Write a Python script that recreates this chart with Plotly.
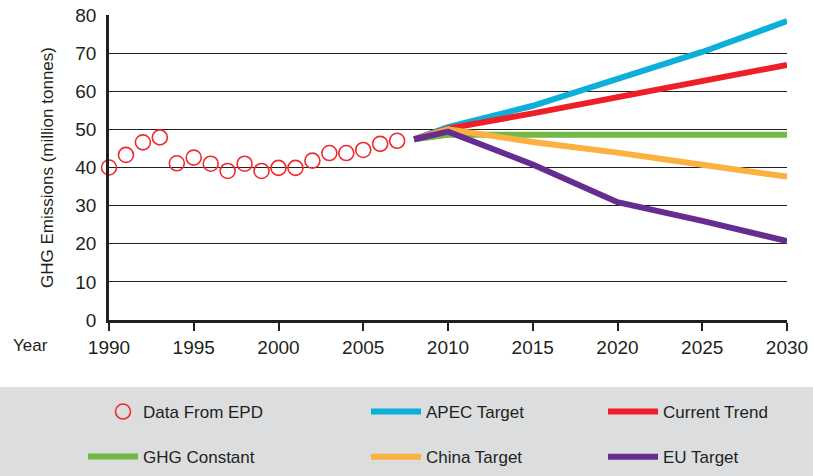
import plotly.graph_objects as go

# Observed emissions (million tonnes CO2-e)
epd_years = list(range(1990, 2008))
epd_values = [40.0, 43.3, 46.6, 47.9, 41.1, 42.6, 41.0, 39.1, 41.0, 39.1,
              39.9, 39.9, 41.8, 43.8, 43.8, 44.6, 46.2, 47.0]

# Projection scenarios
proj_years = [2008, 2010, 2015, 2020, 2025, 2030]
apec_target = [47.4, 50.6, 56.2, 63.3, 70.3, 78.4]
current_trend = [47.4, 50.2, 54.2, 58.4, 62.6, 66.9]
ghg_constant = [47.4, 48.6, 48.6, 48.6, 48.6, 48.6]
china_target = [47.4, 50.0, 46.7, 43.9, 40.7, 37.6]
eu_target = [47.4, 49.4, 40.8, 30.9, 26.0, 20.7]

x_ticks = [1990, 1995, 2000, 2005, 2010, 2015, 2020, 2025, 2030]
y_ticks = [0, 10, 20, 30, 40, 50, 60, 70, 80]

TEXT = "#231f20"
FONT = "Liberation Sans, Arial, sans-serif"

W, H = 813, 476
L, R, T, B = 109, 26, 15, 156
pw, ph = W - L - R, H - T - B


def px_x(px):
    return (px - L) / pw


def px_y(py):
    return (H - B - py) / ph


fig = go.Figure()

fig.add_trace(go.Scatter(
    x=epd_years, y=epd_values, mode="markers", name="Data From EPD",
    marker=dict(symbol="circle-open", size=15, color="#ee2b2f",
                line=dict(width=1.6, color="#ee2b2f")),
    cliponaxis=False, legend="legend", legendgroup="a"))

scenarios = [
    ("GHG Constant", ghg_constant, "#72b844", "legend4", "b"),
    ("APEC Target", apec_target, "#0bafd9", "legend2", "c"),
    ("Current Trend", current_trend, "#ee1f26", "legend3", "d"),
    ("China Target", china_target, "#fbb040", "legend2", "e"),
    ("EU Target", eu_target, "#662d91", "legend3", "f"),
]
for name, vals, color, leg, grp in scenarios:
    fig.add_trace(go.Scatter(
        x=proj_years, y=vals, mode="lines", name=name,
        line=dict(color=color, width=6),
        legend=leg, legendgroup=grp))

leg_common = dict(
    orientation="v", xanchor="left", yanchor="top",
    bgcolor="rgba(0,0,0,0)", font=dict(family=FONT, size=17, color=TEXT),
    traceorder="grouped", tracegroupgap=20)
row1_top = px_y(394)
row2_top = px_y(394 + 45)
fig.update_layout(
    legend=dict(x=px_x(145 - 42), y=row1_top, **leg_common),
    legend4=dict(x=px_x(145 - 62), y=row2_top, itemwidth=50, **leg_common),
    legend2=dict(x=px_x(428 - 62), y=row1_top, itemwidth=50, **leg_common),
    legend3=dict(x=px_x(665 - 62), y=row1_top, itemwidth=50, **leg_common),
)

# grey band behind the legend
fig.add_shape(type="rect", xref="paper", yref="paper",
              x0=px_x(-5), x1=px_x(W + 5), y0=px_y(387), y1=px_y(H + 5),
              fillcolor="#dcdddf", line=dict(width=0), layer="below")

fig.add_annotation(text="Year", xref="paper", yref="paper",
                   x=px_x(11), y=px_y(345), xanchor="left", yanchor="middle",
                   showarrow=False, font=dict(family=FONT, size=17, color=TEXT))

fig.update_xaxes(
    range=[1990, 2030], tickvals=x_ticks, ticktext=[str(v) for v in x_ticks],
    showgrid=False, zeroline=False, showline=True, linecolor=TEXT, linewidth=2.5,
    ticks="outside", ticklen=8, tickwidth=2, tickcolor=TEXT,
    tickfont=dict(family=FONT, size=19, color=TEXT))
fig.update_yaxes(
    range=[0, 80], tickvals=y_ticks, showgrid=True, gridcolor=TEXT, gridwidth=1.3,
    zeroline=False, showline=True, linecolor=TEXT, linewidth=2.5,
    ticks="", ticklabelstandoff=6,
    tickfont=dict(family=FONT, size=19, color=TEXT),
    title=dict(text="GHG Emissions (million tonnes)", standoff=18,
               font=dict(family=FONT, size=17, color=TEXT)))

fig.update_layout(
    width=W, height=H, margin=dict(l=L, r=R, t=T, b=B, autoexpand=False),
    paper_bgcolor="white", plot_bgcolor="white", showlegend=True)

fig.write_html("out.html")
